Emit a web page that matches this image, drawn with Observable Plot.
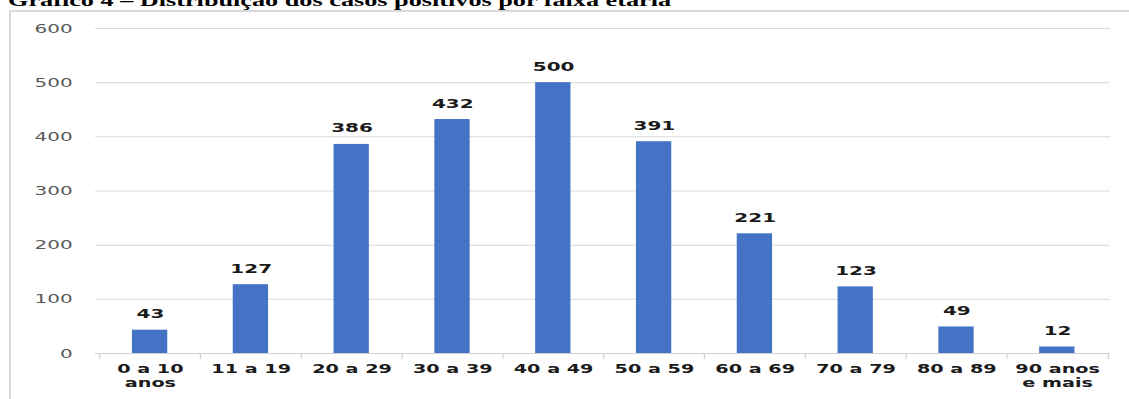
<!DOCTYPE html>
<html>
<head>
<meta charset="utf-8">
<script src="https://cdn.jsdelivr.net/npm/d3@7"></script>
<script src="https://cdn.jsdelivr.net/npm/@observablehq/plot@0.6"></script>
<style>
  html, body { margin: 0; padding: 0; background: #fff; overflow: hidden; }
  #wrap { position: relative; width: 1129px; height: 399px; overflow: hidden; }
  #frame { position: absolute; left: 9px; top: 10px; width: 1300px; height: 500px; border: 2px solid #d9d9d9; box-sizing: border-box; pointer-events: none; }
  #title { position: absolute; left: 8px; top: -8px; font-family: "Liberation Serif", serif; font-weight: bold; font-size: 16.4px; line-height: 17px; color: #000; white-space: nowrap; transform: scaleX(1.6); transform-origin: 0 0; }
  #chart { position: absolute; left: 0; top: 0; transform: scaleX(1.6); transform-origin: 0 0; }
</style>
</head>
<body>
<div id="wrap">
  <div id="frame"></div>
  <div id="chart"></div>
  <div id="title">Gráfico 4 – Distribuição dos casos positivos por faixa etária</div>
</div>
<script>
const categories = ["0 a 10\nanos", "11 a 19", "20 a 29", "30 a 39", "40 a 49", "50 a 59", "60 a 69", "70 a 79", "80 a 89", "90 anos\ne mais"];
const values = [43, 127, 386, 432, 500, 391, 221, 123, 49, 12];
const yTicks = [0, 100, 200, 300, 400, 500, 600];

const data = categories.map((c, i) => ({cat: c, value: values[i]}));

// the reference image is horizontally stretched; draw narrower and stretch by K
const K = 1.6;
const W = 1129 / K, H = 399, mL = 95 / K, mR = 19 / K, mT = 28, mB = 46;
const band = (W - mL - mR) / categories.length;
const barW = 36 / K;

const chart = Plot.plot({
  width: W,
  height: H,
  marginTop: mT,
  marginBottom: mB,
  marginLeft: mL,
  marginRight: mR,
  style: {fontFamily: "'DejaVu Sans', Verdana, sans-serif", background: "transparent", overflow: "visible"},
  x: {domain: categories, padding: 0, label: null},
  y: {domain: [0, 600], label: null},
  marks: [
    Plot.gridY(yTicks, {stroke: "#d9d9d9", strokeOpacity: 1, strokeWidth: 1}),
    Plot.ruleY([0], {stroke: "#d0d0d0", strokeWidth: 1.2}),
    Plot.axisY(yTicks, {tickSize: 0, tickPadding: 14.5, fontSize: 12.5, fill: "#595959", label: null}),
    Plot.axisX(categories, {tickSize: 6, dx: -band / 2, tickFormat: () => "", stroke: "#d0d0d0", strokeWidth: 0.8, label: null}),
    Plot.axisX([categories[categories.length - 1]], {tickSize: 6, dx: band / 2, tickFormat: () => "", stroke: "#d0d0d0", strokeWidth: 0.8, label: null}),
    Plot.axisX(categories, {tickSize: 0, tickPadding: 9, fontSize: 12, fontWeight: "bold", fill: "#1a1a1a", lineHeight: 1.2, label: null}),
    Plot.barY(data, {x: "cat", y: "value", fill: "#4472C4", insetLeft: (band - barW) / 2, insetRight: (band - barW) / 2}),
    Plot.text(data, {x: "cat", y: "value", text: d => String(d.value), dy: -16, fontSize: 12.5, fontWeight: "bold", fill: "#1a1a1a"})
  ]
});
document.getElementById("chart").appendChild(chart);
</script>
</body>
</html>
